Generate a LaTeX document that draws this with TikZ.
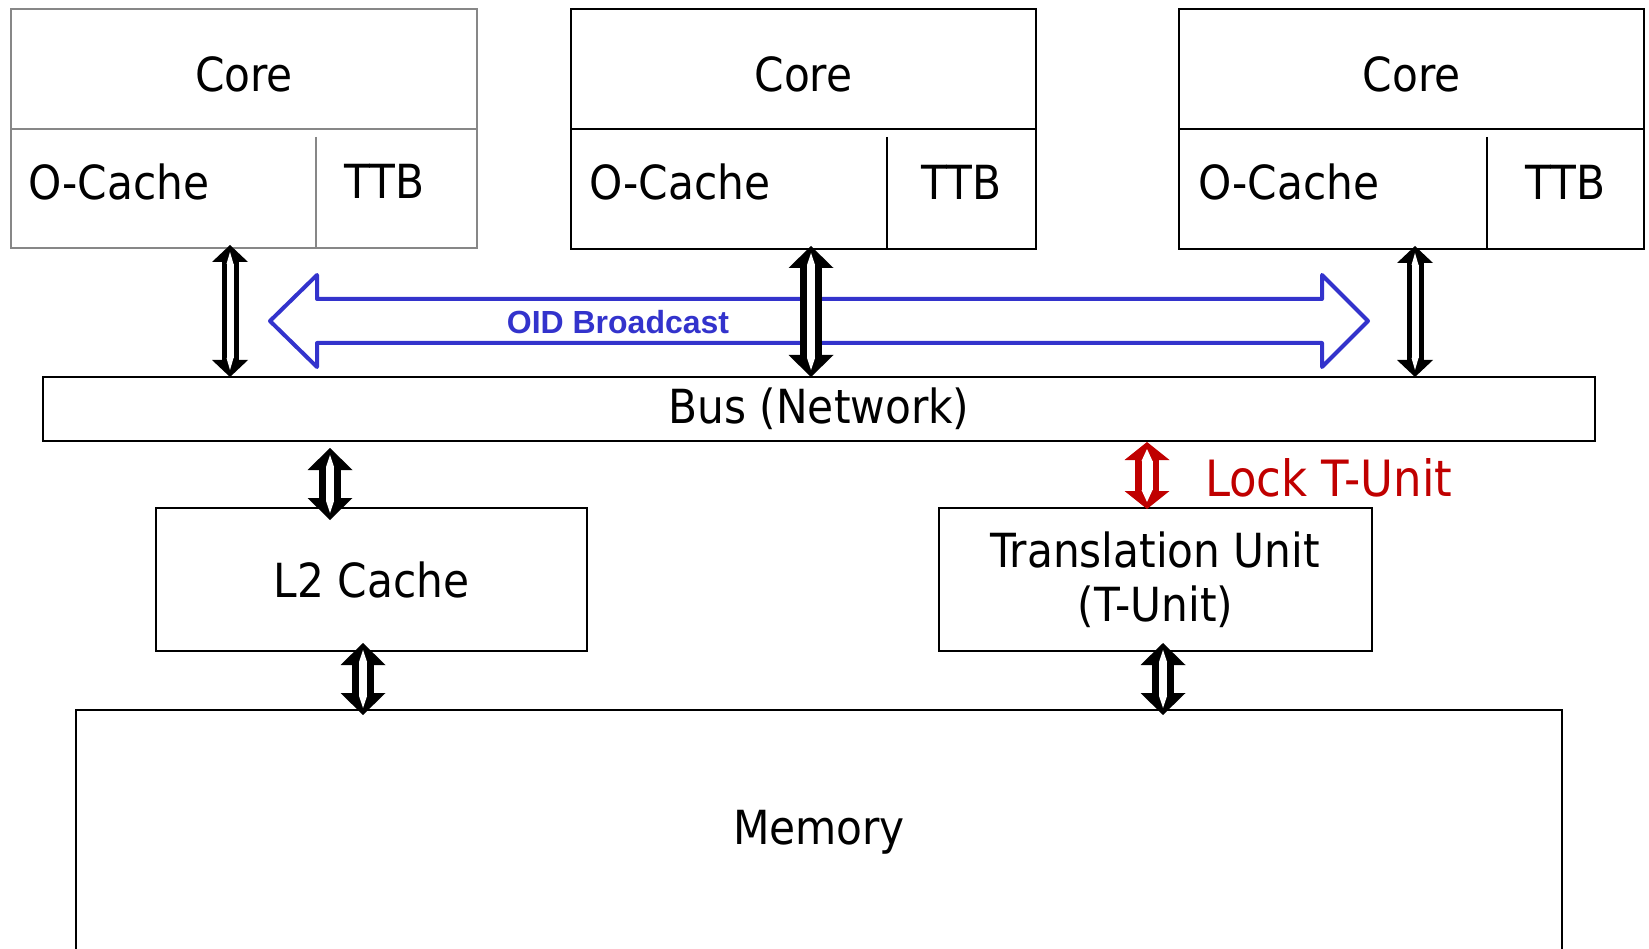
\documentclass[tikz,border=0pt]{standalone}
\usepackage{fontspec}
\setmainfont{DejaVu Sans Condensed}
\newfontfamily\oidfont{Liberation Sans}
\usetikzlibrary{arrows.meta, positioning, calc}
\definecolor{oidblue}{RGB}{51,51,204}
\definecolor{lockred}{RGB}{192,0,0}
\definecolor{oldgray}{RGB}{135,135,135}

\begin{document}
\begin{tikzpicture}[
    x=1pt, y=-1pt,
    font=\fontsize{47}{51}\selectfont,
    box/.style    = {rectangle, draw=black, line width=1.3pt, inner sep=0pt, outer sep=0pt, align=center},
    grayed/.style = {draw=oldgray, line width=2pt},
    lbl/.style    = {inner sep=0pt, outer sep=0pt, align=center},
    dblarr/.style n args={4}{line width=#1,
        {Triangle[width=#2,length=#3,line width=0pt]}-{Triangle[width=#2,length=#3,line width=0pt]},
        postaction={draw=white, line width=#4,
            {Triangle[width=#4,length=12pt,line width=0pt]}-{Triangle[width=#4,length=12pt,line width=0pt]},
            shorten <=7pt, shorten >=7pt}},
    bigarr/.style   = {draw=black, dblarr={22pt}{45pt}{22pt}{8pt}},
    smallarr/.style = {draw=black, dblarr={17pt}{36pt}{17pt}{7pt}},
    lockarr/.style  = {draw=lockred, dblarr={24pt}{45pt}{18pt}{11pt}},
    oid/.style      = {draw=oidblue, line width=4pt, line join=round},
]
\useasboundingbox (0,0) rectangle (1649,949);

% ---- three cores on top ----
\node[box, grayed, minimum width=466pt, minimum height=120pt, anchor=north west] (core1) at (11,9) {};
\node[lbl] (c1txt) at ([yshift=-5pt]core1.center) {Core};
\node[box, grayed, minimum width=466pt, minimum height=119pt, anchor=north west] (low1) at (core1.south west) {};
\node[lbl, anchor=west] (oc1) at ([xshift=17pt, yshift=7pt]low1.west) {O-Cache};
\node[lbl, minimum width=161pt, anchor=east] (ttb1) at ([xshift=-12pt, yshift=7pt]low1.east) {TTB};
\draw[grayed] ($(low1.north west)+(305,8)$) -- ($(low1.south west)+(305,0)$);

\node[box, minimum width=465pt, minimum height=120pt, right=94pt of core1.north east, anchor=north west] (core2) {};
\node[lbl] (c2txt) at ([yshift=-5pt]core2.center) {Core};
\node[box, minimum width=465pt, minimum height=120pt, anchor=north west] (low2) at (core2.south west) {};
\node[lbl, anchor=west] (oc2) at ([xshift=18pt, yshift=7pt]low2.west) {O-Cache};
\node[lbl, minimum width=149pt, anchor=east] (ttb2) at ([yshift=7pt]low2.east) {TTB};
\draw[box] ($(low2.north west)+(316,8)$) -- ($(low2.south west)+(316,0)$);

\node[box, minimum width=465pt, minimum height=120pt, right=143pt of core2.north east, anchor=north west] (core3) {};
\node[lbl] (c3txt) at ([yshift=-5pt]core3.center) {Core};
\node[box, minimum width=465pt, minimum height=120pt, anchor=north west] (low3) at (core3.south west) {};
\node[lbl, anchor=west] (oc3) at ([xshift=19pt, yshift=7pt]low3.west) {O-Cache};
\node[lbl, minimum width=157pt, anchor=east] (ttb3) at ([yshift=7pt]low3.east) {TTB};
\draw[box] ($(low3.north west)+(308,8)$) -- ($(low3.south west)+(308,0)$);

% ---- bus, caches, memory ----
\node[box, minimum width=1552pt, minimum height=64pt, below right=129pt and 32pt of low1.south west] (bus) {Bus (Network)};
\node[box, minimum width=431pt, minimum height=143pt, below right=67pt and 113pt of bus.south west] (l2) {L2 Cache};
\node[box, minimum width=433pt, minimum height=143pt, right=352pt of l2,
      font=\fontsize{47}{54}\selectfont] (tunit) {Translation Unit\\(T-Unit)};
\node[box, minimum width=1486pt, minimum height=244pt, below left=59pt and 80pt of l2.south west, anchor=north west] (mem) {Memory};

% ---- OID broadcast (hollow double arrow) ----
\draw[oid] (270,321) -- (317,275) -- (317,299) -- (1322,299) -- (1322,275) -- (1368,321)
        -- (1322,367) -- (1322,343) -- (317,343) -- (317,367) -- cycle;
\node[lbl, font=\oidfont\bfseries\fontsize{32}{36}\selectfont, text=oidblue] (oidtxt) at (618,322) {OID Broadcast};

% ---- core <-> bus ----
\draw[smallarr] ($(low1.south west)+(219,-3)$) -- ($(low1.south west |- bus.north)+(219,0)$);
\draw[bigarr]   ($(low2.south west)+(240,-3)$) -- ($(low2.south west |- bus.north)+(240,0)$);
\draw[smallarr] ($(low3.south west)+(236,-3)$) -- ($(low3.south west |- bus.north)+(236,0)$);

% ---- bus <-> L2, L2/T-Unit <-> memory ----
\draw[bigarr] ($(l2.north west |- bus.south)+(174,7)$) -- ($(l2.north west)+(174,12)$);
\draw[bigarr] ($(l2.south west)+(207,-8)$) -- ($(l2.south west |- mem.north)+(207,5)$);
\draw[bigarr] ($(tunit.south west)+(224,-8)$) -- ($(tunit.south west |- mem.north)+(224,5)$);

% ---- lock path to the T-Unit ----
\draw[lockarr] ($(tunit.north west |- bus.south)+(208,1)$) -- ($(tunit.north west)+(208,1)$);
\node[lbl, text=lockred, anchor=west, font=\fontsize{50}{54}\selectfont] (locktxt) at ($(tunit.north west)+(266,-30)$) {Lock T-Unit};

\end{tikzpicture}
\end{document}
